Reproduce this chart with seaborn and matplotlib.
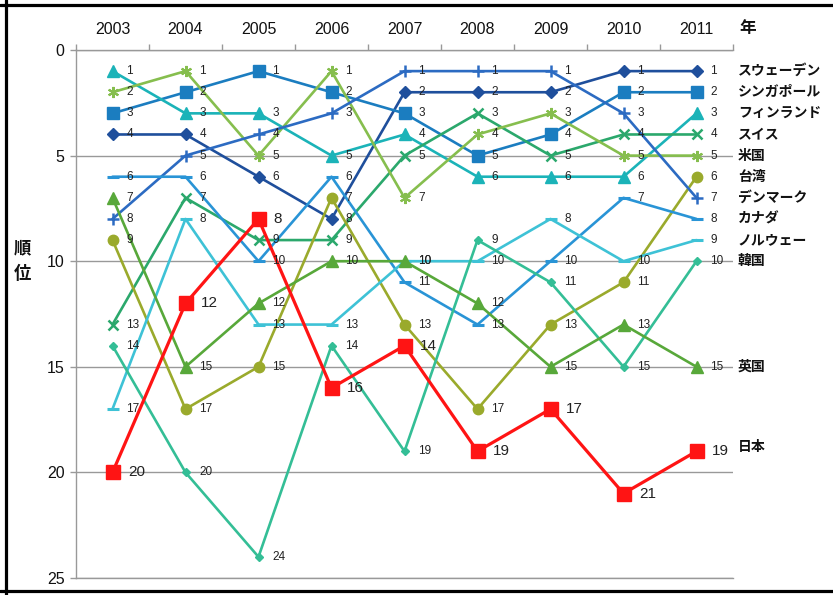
import matplotlib

matplotlib.use('Agg')
import matplotlib.pyplot as plt
import pandas as pd
import seaborn as sns
from matplotlib.lines import Line2D

# ranking data (rank per year)
years = ['2003', '2004', '2005', '2006', '2007', '2008', '2009', '2010', '2011']

sweden = [4, 4, 6, 8, 2, 2, 2, 1, 1]
singapore = [3, 2, 1, 2, 3, 5, 4, 2, 2]
finland = [1, 3, 3, 5, 4, 6, 6, 6, 3]
swiss = [13, 7, 9, 9, 5, 3, 5, 4, 4]
usa = [2, 1, 5, 1, 7, 4, 3, 5, 5]
taiwan = [9, 17, 15, 7, 13, 17, 13, 11, 6]
denmark = [8, 5, 4, 3, 1, 1, 1, 3, 7]
canada = [6, 6, 10, 6, 11, 13, 10, 7, 8]
norway = [17, 8, 13, 13, 10, 10, 8, 10, 9]
korea = [14, 20, 24, 14, 19, 9, 11, 15, 10]
uk = [7, 15, 12, 10, 10, 12, 15, 13, 15]
japan = [20, 12, 8, 16, 14, 19, 17, 21, 19]

names = ['スウェーデン', 'シンガポール', 'フィンランド', 'スイス', '米国', '台湾',
         'デンマーク', 'カナダ', 'ノルウェー', '韓国', '英国', '日本']
ranks = [sweden, singapore, finland, swiss, usa, taiwan,
         denmark, canada, norway, korea, uk, japan]

# colour, marker, marker size, marker edge width
styles = [
	('#1F4F9C', 'D', 6.5, 1.0),
	('#1B7DC0', 's', 8.0, 1.0),
	('#1BB3B8', '^', 8.0, 1.0),
	('#2BA86C', 'x', 7.0, 1.8),
	('#86BE4E', (6, 2, 0), 8.0, 1.5),
	('#9AAA2C', 'o', 7.5, 1.0),
	('#2C6BC2', '+', 8.0, 1.8),
	('#2994D6', '_', 8.0, 2.2),
	('#3EC2D6', '_', 8.0, 2.2),
	('#34BE96', 'D', 4.5, 1.0),
	('#58A83A', '^', 8.0, 1.0),
	('#FF1414', 's', 9.5, 1.0),
]

W, H = 833, 595
sns.set_theme(style='white')
plt.rcParams['font.family'] = ['Liberation Sans', 'Noto Sans CJK JP', 'DejaVu Sans']

fig = plt.figure(figsize=(W / 100, H / 100), dpi=100)
ax = fig.add_axes([76 / W, 1 - 578 / H, (733 - 76) / W, (578 - 50) / H])

x_pos = list(range(len(years)))
for name, vals, (col, mk, ms, mew) in zip(names, ranks, styles):
	is_japan = name == '日本'
	df = pd.DataFrame({'x': x_pos, 'rank': vals})
	sns.lineplot(
		data=df, x='x', y='rank', ax=ax, color=col, marker=mk, markersize=ms,
		markeredgecolor=col, markeredgewidth=mew, linewidth=2.3 if is_japan else 1.9,
		zorder=5 if is_japan else 3,
	)
	for xi, v in zip(x_pos, vals):
		ax.annotate(
			str(v), (xi, v), xytext=(11 if is_japan else 10, 0), textcoords='offset points',
			ha='left', va='center', fontsize=11 if is_japan else 8.5, color='#222222', zorder=6,
		)
	dy = 3 if is_japan else 0
	ax.annotate(
		name, (8.5, vals[-1]), xytext=(3.5, dy), textcoords='offset points',
		ha='left', va='center', fontsize=10, fontweight='bold', color='#111111',
		annotation_clip=False,
	)

ax.set_xlim(-0.5, 8.5)
ax.set_ylim(25, 0)
ax.set_xlabel('')
ax.set_ylabel('')

ax.xaxis.tick_top()
ax.set_xticks(x_pos, years)
ax.set_xticks([i - 0.5 for i in range(len(years) + 1)], minor=True)
ax.tick_params(axis='x', which='major', length=0, pad=9, labelsize=11.5, colors='#111111')
ax.tick_params(axis='x', which='minor', top=True, bottom=False, length=4, width=1,
               color='#999999', direction='out')

ax.set_yticks([0, 5, 10, 15, 20, 25])
ax.tick_params(axis='y', which='major', left=True, length=4.3, width=1, color='#999999',
               pad=4, labelsize=11.5, labelcolor='#111111')
ax.yaxis.grid(True, color='#999999', linewidth=1)
ax.set_axisbelow(True)

for side in ['top', 'left', 'bottom']:
	ax.spines[side].set_color('#999999')
	ax.spines[side].set_linewidth(1)
ax.spines['right'].set_visible(False)

fig.text(748 / W, 1 - 28 / H, '年', ha='center', va='center', fontsize=12,
         fontweight='bold', color='#111111')
fig.text(22 / W, 1 - 261 / H, '順\n位', ha='center', va='center', fontsize=12.5,
         fontweight='bold', linespacing=1.6, color='#111111')

# black frame around the picture
for xs, ys in [((0, 1), (1 - 4.5 / H,) * 2), ((6 / W,) * 2, (0, 1)), ((0, 1), (1 - 591 / H,) * 2)]:
	fig.add_artist(Line2D(xs, ys, transform=fig.transFigure, color='black', linewidth=2.3))

fig.savefig('out.png', dpi=100, facecolor='white')
